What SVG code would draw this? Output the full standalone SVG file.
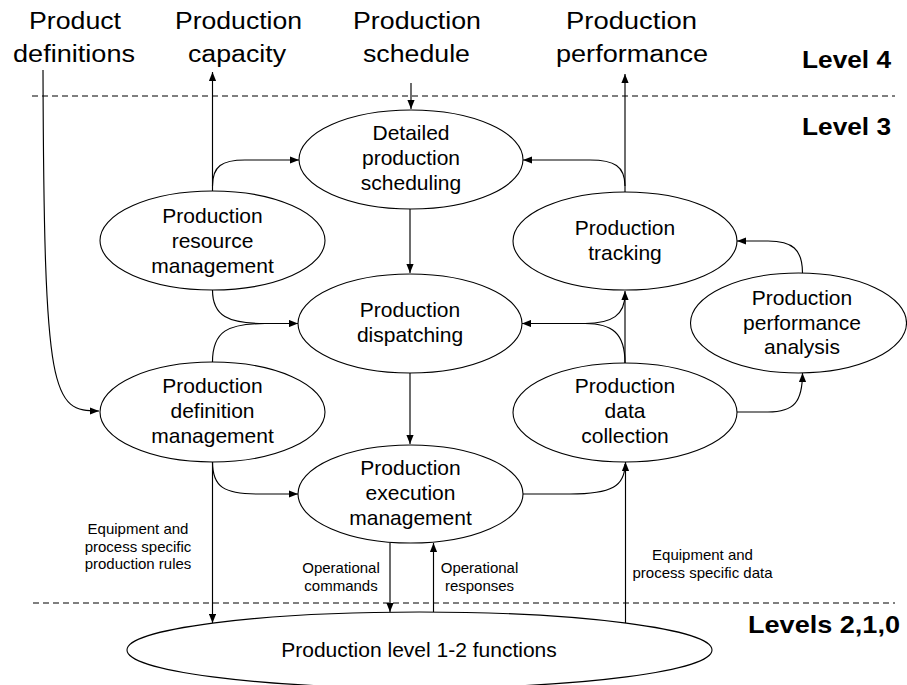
<svg xmlns="http://www.w3.org/2000/svg" width="907" height="685" viewBox="0 0 907 685">
<defs>
<marker id="arr" viewBox="0 0 10 8" refX="10" refY="4" markerWidth="9" markerHeight="7.5" markerUnits="userSpaceOnUse" orient="auto">
<path d="M0,0 L10,4 L0,8 z" fill="#000"/>
</marker>
<style>
.n ellipse{fill:#fff;stroke:#000;stroke-width:1.1}
.t{font-family:"Liberation Sans",Arial,sans-serif;font-size:21px;fill:#000;text-anchor:middle}
.big{font-family:"Liberation Sans",Arial,sans-serif;font-size:23px;fill:#000}
.lvl{font-family:"Liberation Sans",Arial,sans-serif;font-size:24px;font-weight:bold;fill:#000}
.sm{font-family:"Liberation Sans",Arial,sans-serif;font-size:15px;fill:#000;text-anchor:middle}
.c path,.c line{fill:none;stroke:#000;stroke-width:1.15}
.c .a{marker-end:url(#arr)}
.dash{stroke:#000;stroke-width:1.1;stroke-dasharray:6 4}
</style>
</defs>
<rect width="907" height="685" fill="#fff"/>

<g id="levels">
<line class="dash" x1="32" y1="96" x2="895" y2="96"/>
<line class="dash" x1="33" y1="603" x2="895" y2="603"/>
<text class="lvl" x="802" y="67.5" textLength="89" lengthAdjust="spacingAndGlyphs">Level 4</text>
<text class="lvl" x="802" y="135" textLength="89" lengthAdjust="spacingAndGlyphs">Level 3</text>
<text class="lvl" x="748" y="632.5" font-size="26" textLength="152" lengthAdjust="spacingAndGlyphs">Levels 2,1,0</text>
</g>

<g id="level4-labels">
<text class="big" x="29" y="29" textLength="92" lengthAdjust="spacingAndGlyphs">Product</text>
<text class="big" x="13" y="62" textLength="122" lengthAdjust="spacingAndGlyphs">definitions</text>
<text class="big" x="175" y="29" textLength="127" lengthAdjust="spacingAndGlyphs">Production</text>
<text class="big" x="188" y="62" textLength="98" lengthAdjust="spacingAndGlyphs">capacity</text>
<text class="big" x="353" y="29" textLength="128" lengthAdjust="spacingAndGlyphs">Production</text>
<text class="big" x="363" y="62" textLength="107" lengthAdjust="spacingAndGlyphs">schedule</text>
<text class="big" x="566" y="29" textLength="131" lengthAdjust="spacingAndGlyphs">Production</text>
<text class="big" x="556" y="62" textLength="152" lengthAdjust="spacingAndGlyphs">performance</text>
</g>

<g id="connectors" class="c">
<path class="a" d="M43 70 C44 400 52 411 99 411"/>
<path class="a" d="M212.5 191 L212.5 72"/>
<path class="a" d="M212.5 186 C212.5 166 222 160 245 160 L299 160"/>
<path class="a" d="M411 83 L411 109"/>
<path class="a" d="M625 192 L625 74"/>
<path class="a" d="M625 186 C625 166 614 160 590 160 L523 160"/>
<path class="a" d="M410 209 L410 273"/>
<path class="a" d="M212.5 290 C212.5 316 228 323.5 265 323.5 L298 323.5"/>
<path d="M212.5 362 C212.5 331 228 323.5 265 323.5"/>
<path class="a" d="M410 373 L410 444"/>
<path class="a" d="M212.5 462 C212.5 487 224 494 258 494 L298 494"/>
<path class="a" d="M212.5 462 L212.5 623"/>
<path class="a" d="M390 543 L390 612"/>
<path class="a" d="M433.5 612 L433.5 543"/>
<path class="a" d="M625.5 623 L625.5 462"/>
<path d="M523 494 L570 494 C612 494 625 486 625 464"/>
<path class="a" d="M625 363 L625 291"/>
<path class="a" d="M625 363 C625 333 612 323.5 585 323.5 L522 323.5"/>
<path d="M585 323.5 C612 323.5 625 315 625 294"/>
<path class="a" d="M802.5 273 C802.5 249 792 241 768 241 L737 241"/>
<path class="a" d="M737 412 L768 412 C794 412 802.5 402 802.5 373"/>
</g>

<g id="detailed-production-scheduling" class="n">
<ellipse cx="411" cy="159.5" rx="112" ry="49.5"/>
<text class="t" x="411" y="140">Detailed</text>
<text class="t" x="411" y="165">production</text>
<text class="t" x="411" y="190">scheduling</text>
</g>

<g id="production-resource-management" class="n">
<ellipse cx="212.5" cy="240.5" rx="112.5" ry="49.5"/>
<text class="t" x="212.5" y="222.5">Production</text>
<text class="t" x="212.5" y="248">resource</text>
<text class="t" x="212.5" y="273">management</text>
</g>

<g id="production-dispatching" class="n">
<ellipse cx="410" cy="323.5" rx="112" ry="49.5"/>
<text class="t" x="410" y="317">Production</text>
<text class="t" x="410" y="342">dispatching</text>
</g>

<g id="production-definition-management" class="n">
<ellipse cx="212.5" cy="412" rx="112.5" ry="50"/>
<text class="t" x="212.5" y="393">Production</text>
<text class="t" x="212.5" y="418">definition</text>
<text class="t" x="212.5" y="443">management</text>
</g>

<g id="production-execution-management" class="n">
<ellipse cx="410.5" cy="494" rx="112.5" ry="49"/>
<text class="t" x="410.5" y="474.5">Production</text>
<text class="t" x="410.5" y="500">execution</text>
<text class="t" x="410.5" y="524.5">management</text>
</g>

<g id="production-tracking" class="n">
<ellipse cx="625" cy="241" rx="112" ry="49"/>
<text class="t" x="625" y="235">Production</text>
<text class="t" x="625" y="260">tracking</text>
</g>

<g id="production-performance-analysis" class="n">
<ellipse cx="798.5" cy="323" rx="108" ry="50"/>
<text class="t" x="802" y="304.5">Production</text>
<text class="t" x="802" y="330">performance</text>
<text class="t" x="802" y="354">analysis</text>
</g>

<g id="production-data-collection" class="n">
<ellipse cx="625" cy="412.5" rx="112" ry="49.5"/>
<text class="t" x="625" y="393">Production</text>
<text class="t" x="625" y="417.5">data</text>
<text class="t" x="625" y="443">collection</text>
</g>

<g id="production-level-1-2-functions" class="n">
<ellipse cx="419.5" cy="650" rx="292.5" ry="38"/>
<text class="t" x="419" y="657">Production level 1-2 functions</text>
</g>

<g id="connector-labels">
<text class="sm" x="138" y="534">Equipment and</text>
<text class="sm" x="138" y="551.5">process specific</text>
<text class="sm" x="138" y="569">production rules</text>
<text class="sm" x="341" y="572.5">Operational</text>
<text class="sm" x="341" y="590.5">commands</text>
<text class="sm" x="479.5" y="572.5">Operational</text>
<text class="sm" x="479.5" y="590.5">responses</text>
<text class="sm" x="702.5" y="560">Equipment and</text>
<text class="sm" x="702.5" y="577.5">process specific data</text>
</g>
</svg>
